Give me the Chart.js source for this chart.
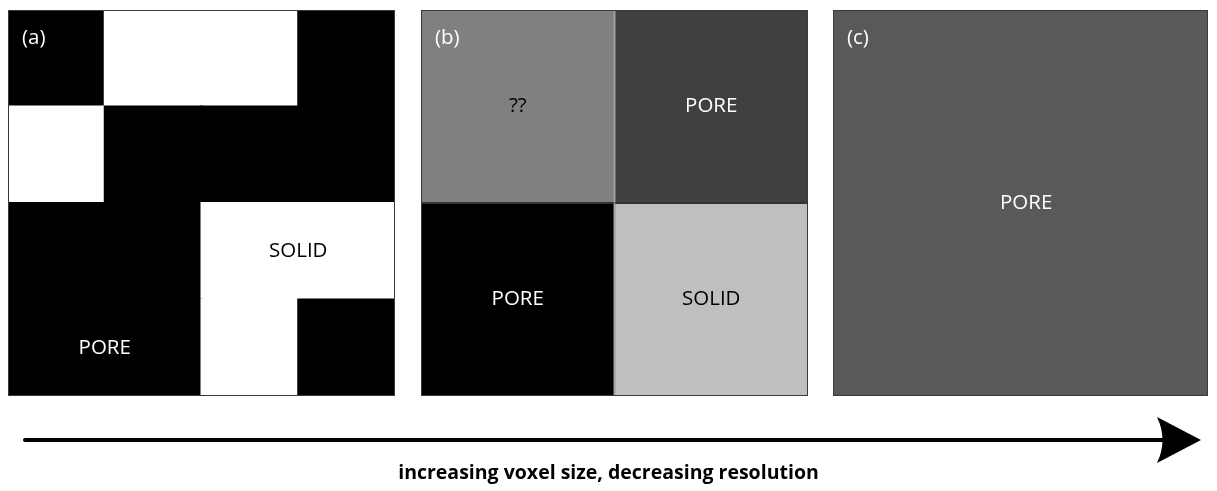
<!DOCTYPE html>
<html>
<head>
<meta charset="utf-8">
<script src="https://cdn.jsdelivr.net/npm/chart.js@4/dist/chart.umd.min.js"></script>
<style>
  body { margin:0; background:#fff; width:1217px; height:491px; overflow:hidden; position:relative; font-family:"Open Sans", sans-serif; }
  .panel { position:absolute; top:10px; height:386px; }
  #pa { left:8px;   width:387px; }
  #pb { left:421px; width:387px; }
  #pc { left:833px; width:375px; }
  #caption { position:absolute; left:0; width:1217px; top:460px; text-align:center; font-weight:bold; font-size:19.5px; line-height:24px; color:#000; }
  svg { position:absolute; left:0; top:0; }
</style>
</head>
<body>
<div class="panel" id="pa"><canvas id="ca"></canvas></div>
<div class="panel" id="pb"><canvas id="cb"></canvas></div>
<div class="panel" id="pc"><canvas id="cc"></canvas></div>
<svg width="1217" height="491">
  <line x1="25" y1="440" x2="1162" y2="440" stroke="#000" stroke-width="4" stroke-linecap="round"/>
  <path d="M1157 417 L1201 440 L1157 463 Q1168 440 1157 417 Z" fill="#000"/>
</svg>
<div id="caption">increasing voxel size, decreasing resolution</div>
<script>
// solid fraction per cell, rows listed top to bottom (1 = solid/white, 0 = pore/black)
const gridA = [
  [0, 1, 1, 0],
  [1, 0, 0, 0],
  [0, 0, 1, 1],
  [0, 0, 1, 0]
];
const gridB = [
  [0.5, 0.25],
  [0,   0.75]
];
const gridC = [[0.35]];

// text labels: [text, column position, row position] in cell units from top-left
const labelsA = [['SOLID', 3.0, 2.5], ['PORE', 1.0, 3.5]];
const labelsB = [['??', 0.5, 0.5], ['PORE', 1.5, 0.5], ['PORE', 0.5, 1.5], ['SOLID', 1.5, 1.5]];
const labelsC = [['PORE', 0.515, 0.5]];
const panelTags = ['(a)', '(b)', '(c)'];

const grey = f => { const v = Math.round(f * 255); return `rgb(${v},${v},${v})`; };

const panelPlugin = {
  id: 'panel',
  afterDraw(chart, args, opts) {
    const ctx = chart.ctx, a = chart.chartArea;
    const x = chart.scales.x, y = chart.scales.y;
    const nRows = opts.grid.length;
    ctx.save();
    ctx.strokeStyle = '#3a3a3a';
    ctx.lineWidth = 1;
    ctx.strokeRect(a.left + 0.5, a.top + 0.5, a.right - a.left - 1, a.bottom - a.top - 1);
    ctx.font = '20.5px "Open Sans"';
    ctx.textBaseline = 'middle';
    ctx.textAlign = 'left';
    ctx.fillStyle = '#fff';
    ctx.fillText(opts.tag, a.left + 14, a.top + 28);
    ctx.textAlign = 'center';
    opts.labels.forEach(([t, c, r]) => {
      const f = opts.grid[Math.floor(r)][Math.min(Math.floor(c), opts.grid[0].length - 1)];
      ctx.fillStyle = f > 0.4 ? '#000' : '#fff';
      ctx.fillText(t, x.getPixelForValue(c - 0.5), y.getPixelForValue(nRows - r));
    });
    ctx.restore();
  }
};

function makePanel(id, grid, labels, tag, border) {
  const nRows = grid.length;
  const cols = grid[0].map((_, i) => 'c' + i);
  // stacked datasets from bottom row up
  const datasets = grid.slice().reverse().map((row, i) => ({
    label: 'r' + i,
    data: row.map(() => 1),
    backgroundColor: row.map(grey),
    borderColor: '#333',
    borderWidth: border,
    borderSkipped: false,
    inflateAmount: border ? 0 : 1,
    barPercentage: 1,
    categoryPercentage: 1
  }));
  new Chart(document.getElementById(id), {
    type: 'bar',
    data: { labels: cols, datasets },
    options: {
      responsive: true, maintainAspectRatio: false, animation: false,
      layout: { padding: 0 },
      plugins: { legend: { display: false }, tooltip: { enabled: false },
                 panel: { grid, labels, tag } },
      scales: {
        x: { display: false, stacked: true },
        y: { display: false, stacked: true, min: 0, max: nRows }
      }
    },
    plugins: [panelPlugin]
  });
}

makePanel('ca', gridA, labelsA, panelTags[0], 0);
makePanel('cb', gridB, labelsB, panelTags[1], 1);
makePanel('cc', gridC, labelsC, panelTags[2], 1);
</script>
</body>
</html>
